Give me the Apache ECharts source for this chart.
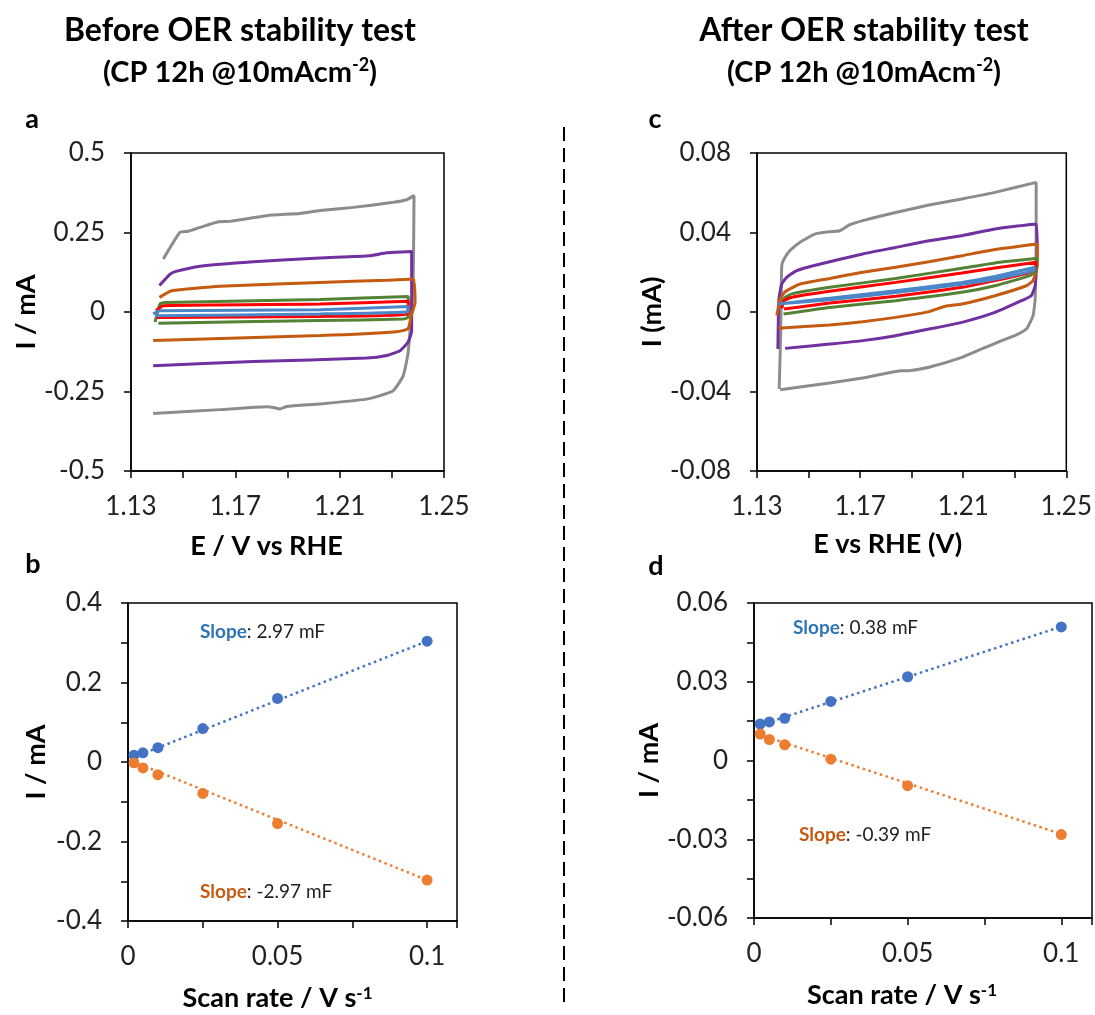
<!DOCTYPE html>
<html>
<head>
<meta charset="utf-8">
<script src="https://cdn.jsdelivr.net/npm/echarts@6/dist/echarts.min.js"></script>
<style>
  html, body { margin: 0; padding: 0; background: #fff; }
  #main { width: 1095px; height: 1015px; }
</style>
</head>
<body>
<div id="main"></div>
<script>
// 字体（Calibri 的替代）
const FONT = 'Lato, "Open Sans", sans-serif'

// 循环伏安曲线颜色（扫速从大到小）
const cvColors = ['#8c8c8c', '#7030a0', '#c55a11', '#548235', '#ff0000', '#4a86c8']

// a: 稳定性测试前 CV 曲线 [E, I]
const cvA_gray = [[1.1424, 0.167], [1.1488, 0.251], [1.152, 0.254], [1.1565, 0.266], [1.1635, 0.284], [1.168, 0.285], [1.182, 0.303], [1.1948, 0.31], [1.2025, 0.319], [1.2152, 0.329], [1.2306, 0.345], [1.2357, 0.353], [1.2385, 0.366], [1.2382, 0.104], [1.2372, -0.032], [1.2362, -0.13], [1.2344, -0.2], [1.2306, -0.247], [1.2255, -0.263], [1.2204, -0.274], [1.2025, -0.289], [1.1897, -0.297], [1.1871, -0.305], [1.1846, -0.3], [1.182, -0.298], [1.1641, -0.307], [1.1385, -0.319]]
const cvA_purple = [[1.1409, 0.083], [1.145, 0.119], [1.1469, 0.127], [1.1565, 0.144], [1.1769, 0.158], [1.2025, 0.17], [1.2216, 0.177], [1.228, 0.186], [1.2376, 0.19], [1.2376, -0.06], [1.2362, -0.095], [1.2331, -0.122], [1.228, -0.137], [1.2204, -0.145], [1.1769, -0.156], [1.1385, -0.169]]
const cvA_orange = [[1.1409, 0.046], [1.1456, 0.067], [1.1641, 0.081], [1.2025, 0.093], [1.228, 0.1], [1.2382, 0.104], [1.2389, 0.03], [1.2375, -0.01], [1.2362, -0.053], [1.2319, -0.062], [1.2025, -0.074], [1.1385, -0.09]]
const cvA_green = [[1.1392, -0.032], [1.1411, 0.025], [1.143, 0.03], [1.2025, 0.039], [1.2363, 0.049], [1.2363, 0.0], [1.2362, -0.017], [1.2344, -0.022], [1.2025, -0.027], [1.1405, -0.035]]
const cvA_red = [[1.1396, 0.004], [1.1424, 0.02], [1.2025, 0.025], [1.2363, 0.034], [1.2362, -0.006], [1.2025, -0.014], [1.1398, -0.017]]
const cvA_blue = [[1.1385, -0.006], [1.1411, 0.004], [1.2025, 0.007], [1.2363, 0.017], [1.2362, 0.001], [1.2025, -0.006], [1.1392, -0.012]]

// c: 稳定性测试后 CV 曲线 [E, I]
const cvC_gray = [[1.1386, -0.0387], [1.1392, -0.0102], [1.1396, 0.0233], [1.1405, 0.0267], [1.1428, 0.0309], [1.1467, 0.0351], [1.1524, 0.0392], [1.1582, 0.0404], [1.1621, 0.0409], [1.1659, 0.0438], [1.171, 0.046], [1.1838, 0.0501], [1.1967, 0.0538], [1.2095, 0.0569], [1.2223, 0.0602], [1.2383, 0.0652], [1.2383, 0.0401], [1.2379, 0.0065], [1.2371, -0.0018], [1.2345, -0.0086], [1.23, -0.0119], [1.2249, -0.0144], [1.2172, -0.0186], [1.2095, -0.0228], [1.1967, -0.0278], [1.189, -0.0295], [1.1864, -0.0295], [1.171, -0.0332], [1.1582, -0.0357], [1.139, -0.0391]]
const cvC_purple = [[1.1381, -0.0186], [1.1385, 0.0065], [1.1396, 0.0141], [1.1415, 0.0174], [1.1454, 0.0208], [1.1518, 0.0233], [1.171, 0.0292], [1.1838, 0.0325], [1.1967, 0.0359], [1.2095, 0.0384], [1.2223, 0.0418], [1.2383, 0.0443], [1.2387, 0.0317], [1.2379, 0.0132], [1.2364, 0.0082], [1.2326, 0.0057], [1.2223, -0.0002], [1.2095, -0.0052], [1.1967, -0.0086], [1.1838, -0.0119], [1.171, -0.0144], [1.1582, -0.0161], [1.1409, -0.0183]]
const cvC_orange = [[1.1377, -0.0018], [1.139, 0.0065], [1.1409, 0.0102], [1.1467, 0.0141], [1.1582, 0.0169], [1.171, 0.02], [1.1838, 0.0225], [1.1967, 0.0253], [1.2095, 0.0283], [1.2223, 0.0314], [1.2387, 0.0342], [1.2387, 0.0233], [1.2371, 0.0158], [1.2345, 0.0132], [1.2223, 0.0082], [1.2095, 0.004], [1.2031, 0.0029], [1.1967, 0.0002], [1.1838, -0.0027], [1.171, -0.0049], [1.1582, -0.0065], [1.1383, -0.0082]]
const cvC_green = [[1.1396, 0.0032], [1.1405, 0.0069], [1.1435, 0.0091], [1.1582, 0.0124], [1.1838, 0.0169], [1.2095, 0.022], [1.2223, 0.0247], [1.2387, 0.027], [1.2383, 0.0208], [1.2358, 0.0183], [1.2223, 0.0132], [1.2095, 0.0099], [1.1838, 0.0057], [1.1582, 0.0023], [1.1403, -0.001]]
const cvC_red = [[1.1396, 0.0018], [1.1405, 0.0057], [1.1435, 0.0074], [1.1582, 0.0104], [1.1838, 0.0149], [1.2095, 0.0196], [1.2223, 0.0221], [1.2383, 0.025], [1.2379, 0.0216], [1.2351, 0.0196], [1.2223, 0.0158], [1.2095, 0.0124], [1.1838, 0.0079], [1.1582, 0.0045], [1.1405, 0.0015]]
const cvC_blue = [[1.1383, 0.004], [1.1582, 0.0069], [1.1838, 0.0107], [1.2095, 0.0149], [1.2223, 0.0179], [1.2379, 0.0225], [1.2371, 0.0208], [1.2223, 0.0165], [1.2095, 0.014], [1.1838, 0.0098], [1.1582, 0.0062], [1.139, 0.0042]]

// b / d: 扫速与电流
const scanRates = [0.002, 0.005, 0.01, 0.025, 0.05, 0.1]
const bAnodic = [0.017, 0.023, 0.036, 0.084, 0.16, 0.304]
const bCathodic = [-0.002, -0.015, -0.032, -0.079, -0.155, -0.297]
const dAnodic = [0.0139, 0.0147, 0.0161, 0.0225, 0.0319, 0.0509]
const dCathodic = [0.0101, 0.008, 0.006, 0.0005, -0.0096, -0.0282]

// 线性拟合线端点
const bAnodicFit = [[0.002, 0.012], [0.1, 0.304]]
const bCathodicFit = [[0.002, 0.0], [0.1, -0.297]]
const dAnodicFit = [[0.002, 0.0135], [0.1, 0.051]]
const dCathodicFit = [[0.002, 0.0098], [0.1, -0.028]]

// 斜率文字
const slopeLabels = ['2.97 mF', '-2.97 mF', '0.38 mF', '-0.39 mF']

const BLUE = '#4472c4'
const ORANGE = '#ed7d31'

const chart = echarts.init(document.getElementById('main'))

// 数值格式化
function fmt(v, digits) {
  if (Math.abs(v) < 1e-9) return '0'
  return String(+v.toFixed(digits))
}

// 仅在 step 的整数倍处显示标签
function onStep(v, step) {
  const k = v / step
  return Math.abs(k - Math.round(k)) < 1e-6
}

const labelStyle = { fontFamily: FONT, fontSize: 26, color: '#222' }
const nameStyle = { fontFamily: FONT, fontSize: 27, fontWeight: 'bold', color: '#000' }

function xAxisCfg(gridIndex, min, max, interval, formatter, name, nameGap, shift, rich) {
  return {
    type: 'value', gridIndex, min, max, interval,
    name, nameLocation: 'middle', nameGap,
    nameTextStyle: Object.assign({}, nameStyle, { padding: [0, shift, 0, 0], rich: rich }),
    splitLine: { show: false },
    axisLine: { onZero: false, lineStyle: { color: '#000', width: 1.5 } },
    axisTick: { inside: false, length: 7, lineStyle: { color: '#000', width: 1.5 } },
    axisLabel: Object.assign({ margin: 23, formatter }, labelStyle),
  }
}

function yAxisCfg(gridIndex, min, max, interval, formatter, name, nameGap) {
  return {
    type: 'value', gridIndex, min, max, interval,
    name, nameLocation: 'middle', nameGap, nameRotate: 90,
    nameTextStyle: nameStyle,
    splitLine: { show: false },
    axisLine: { onZero: false, lineStyle: { color: '#000', width: 1.5 } },
    axisTick: { inside: false, length: 7, lineStyle: { color: '#000', width: 1.5 } },
    axisLabel: Object.assign({ margin: 26, formatter }, labelStyle),
  }
}

const scanRich = {
  n: { fontFamily: FONT, fontSize: 27, fontWeight: 'bold', color: '#000' },
  s: { fontFamily: FONT, fontSize: 17, fontWeight: 'bold', color: '#000', verticalAlign: 'top' },
}

function cvSeries(data, color, idx) {
  return {
    type: 'line', xAxisIndex: idx, yAxisIndex: idx, data,
    showSymbol: false, symbol: 'none', silent: true, smooth: 0.15,
    lineStyle: { color, width: 3 },
  }
}

function fitSeries(data, color, idx) {
  return {
    type: 'line', xAxisIndex: idx, yAxisIndex: idx, data,
    showSymbol: false, symbol: 'none', silent: true,
    lineStyle: { color, width: 2.5, type: [2.5, 3.5] },
  }
}

function dotSeries(values, color, idx) {
  return {
    type: 'scatter', xAxisIndex: idx, yAxisIndex: idx,
    data: scanRates.map((x, i) => [x, values[i]]),
    symbolSize: 11, itemStyle: { color, opacity: 1 },
  }
}

function titleText(x, y, text) {
  return {
    type: 'text', x, y,
    style: {
      text, fill: '#000', font: 'bold 32px ' + FONT,
      align: 'center', verticalAlign: 'middle',
    },
  }
}

function subTitle(x, y) {
  return {
    type: 'text', x, y,
    style: {
      text: '{n|(CP 12h @10mAcm}{s|-2}{n|)}',
      align: 'center', verticalAlign: 'middle',
      rich: {
        n: { fontFamily: FONT, fontSize: 29, fontWeight: 'bold', fill: '#000', lineHeight: 34 },
        s: { fontFamily: FONT, fontSize: 18, fontWeight: 'bold', fill: '#000', verticalAlign: 'top', lineHeight: 34 },
      },
    },
  }
}

function letter(x, y, text) {
  return {
    type: 'text', x, y,
    style: { text, fill: '#000', font: 'bold 27px ' + FONT, align: 'center', verticalAlign: 'middle' },
  }
}

function slopeText(x, y, value, color) {
  return {
    type: 'text', x, y, z: 100,
    style: {
      text: '{c|Slope}{t|: ' + value + '}',
      align: 'left', verticalAlign: 'middle',
      rich: {
        c: { fontFamily: FONT, fontSize: 19, fontWeight: 'bold', fill: color },
        t: { fontFamily: FONT, fontSize: 19, fill: '#222' },
      },
    },
  }
}

const gridBox = { show: true, borderColor: '#000', borderWidth: 1.5, backgroundColor: 'transparent' }

const option = {
  animation: false,
  backgroundColor: '#fff',
  grid: [
    Object.assign({ left: 131, top: 153, width: 313, height: 318 }, gridBox),
    Object.assign({ left: 128, top: 603, width: 329, height: 318 }, gridBox),
    Object.assign({ left: 757, top: 153, width: 312, height: 318 }, gridBox),
    Object.assign({ left: 754, top: 603, width: 338, height: 315 }, gridBox),
  ],
  xAxis: [
    xAxisCfg(0, 1.13, 1.25, 0.02, v => onStep(v - 1.13, 0.04) ? v.toFixed(2) : '', 'E / V vs RHE', 62, 42),
    xAxisCfg(1, 0, 0.11, 0.025, v => (onStep(v, 0.05) && v <= 0.1 + 1e-9) ? fmt(v, 3) : '',
      '{n|Scan rate / V s}{s|-1}', 64, 30, scanRich),
    xAxisCfg(2, 1.13, 1.25, 0.02, v => onStep(v - 1.13, 0.04) ? v.toFixed(2) : '', 'E vs RHE (V)', 60, 48),
    xAxisCfg(3, 0, 0.11, 0.025, v => (onStep(v, 0.05) && v <= 0.1 + 1e-9) ? fmt(v, 3) : '',
      '{n|Scan rate / V s}{s|-1}', 64, 42, scanRich),
  ],
  yAxis: [
    yAxisCfg(0, -0.5, 0.5, 0.25, v => fmt(v, 2), 'I / mA', 88),
    yAxisCfg(1, -0.4, 0.4, 0.1, v => onStep(v, 0.2) ? fmt(v, 1) : '', 'I / mA', 78),
    yAxisCfg(2, -0.08, 0.08, 0.04, v => fmt(v, 2), 'I (mA)', 90),
    yAxisCfg(3, -0.06, 0.06, 0.015, v => onStep(v, 0.03) ? fmt(v, 2) : '', 'I / mA', 83),
  ],
  series: [
    cvSeries(cvA_gray, cvColors[0], 0),
    cvSeries(cvA_purple, cvColors[1], 0),
    cvSeries(cvA_orange, cvColors[2], 0),
    cvSeries(cvA_green, cvColors[3], 0),
    cvSeries(cvA_red, cvColors[4], 0),
    cvSeries(cvA_blue, cvColors[5], 0),

    fitSeries(bAnodicFit, BLUE, 1),
    fitSeries(bCathodicFit, ORANGE, 1),
    dotSeries(bAnodic, BLUE, 1),
    dotSeries(bCathodic, ORANGE, 1),

    cvSeries(cvC_gray, cvColors[0], 2),
    cvSeries(cvC_purple, cvColors[1], 2),
    cvSeries(cvC_orange, cvColors[2], 2),
    cvSeries(cvC_green, cvColors[3], 2),
    cvSeries(cvC_red, cvColors[4], 2),
    cvSeries(cvC_blue, cvColors[5], 2),

    fitSeries(dAnodicFit, BLUE, 3),
    fitSeries(dCathodicFit, ORANGE, 3),
    dotSeries(dAnodic, BLUE, 3),
    dotSeries(dCathodic, ORANGE, 3),
  ],
  graphic: [
    titleText(240, 31, 'Before OER stability test'),
    subTitle(240, 73),
    titleText(864, 31, 'After OER stability test'),
    subTitle(864, 73),
    letter(32, 119, 'a'),
    letter(33, 564, 'b'),
    letter(655, 119, 'c'),
    letter(656, 566, 'd'),
    slopeText(200, 632, slopeLabels[0], '#2e75b6'),
    slopeText(200, 892, slopeLabels[1], '#c55a11'),
    slopeText(793, 628, slopeLabels[2], '#2e75b6'),
    slopeText(799, 835, slopeLabels[3], '#c55a11'),
    {
      type: 'line',
      shape: { x1: 564, y1: 127, x2: 564, y2: 1002 },
      style: { stroke: '#000', lineWidth: 2, lineDash: [14, 7] },
    },
  ],
}

chart.setOption(option)
</script>
</body>
</html>
